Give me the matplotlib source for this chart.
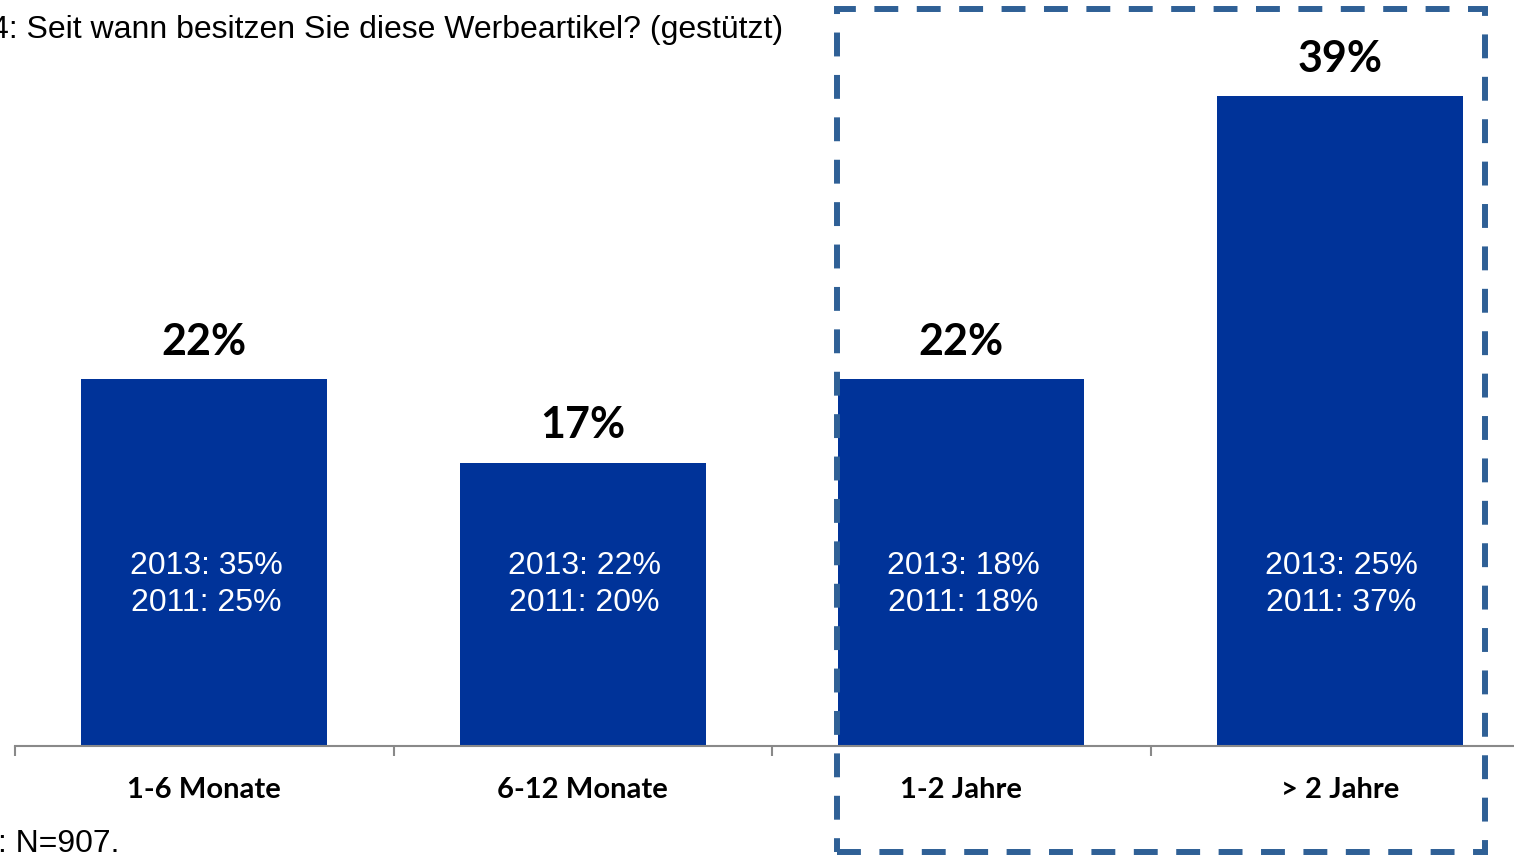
import matplotlib
matplotlib.use("Agg")
import matplotlib.pyplot as plt
from matplotlib.patches import Rectangle

categories = ["1-6 Monate", "6-12 Monate", "1-2 Jahre", "> 2 Jahre"]
values_2015 = [22, 17, 22, 39]
values_2013 = [35, 22, 18, 25]
values_2011 = [25, 20, 18, 37]

title = "4: Seit wann besitzen Sie diese Werbeartikel? (gestützt)"
footnote = ": N=907."

BAR = "#003399"
BOX = "#2F6096"
AXIS = "#898989"
BOLD_FONT = ["Lato", "DejaVu Sans"]
REG_FONT = ["Liberation Sans", "DejaVu Sans"]

W, H = 1514, 855
fig = plt.figure(figsize=(W / 100, H / 100), dpi=100)
ax = fig.add_axes([15 / W, (H - 746) / H, 1514 / W, 650 / H])

x = list(range(len(categories)))
ax.bar(x, values_2015, width=0.65, color=BAR, zorder=2)
ax.set_xlim(-0.5, 3.5)
ax.set_ylim(0, 39)

for s in ["top", "left", "right"]:
    ax.spines[s].set_visible(False)
ax.spines["bottom"].set_color(AXIS)
ax.spines["bottom"].set_linewidth(1.5)
ax.set_yticks([])

ax.set_xticks(x)
ax.set_xticklabels(categories, fontsize=21, fontweight="bold", family=BOLD_FONT)
ax.tick_params(axis="x", which="major", length=0, pad=22.5)
ax.set_xticks([i - 0.5 for i in range(len(categories) + 1)], minor=True)
ax.tick_params(axis="x", which="minor", length=7, width=1.5, color=AXIS, direction="out")

for i, v in enumerate(values_2015):
    ax.annotate(f"{v}%", (i, v), xytext=(0, 27), textcoords="offset points",
                ha="center", va="center", fontsize=31, fontweight="bold",
                family=BOLD_FONT, color="black")
    ax.text(i + 0.005, 9.7, f"2013: {values_2013[i]}%\n2011: {values_2011[i]}%",
            ha="center", va="center", fontsize=23, color="white",
            family=REG_FONT, linespacing=1.33, zorder=3)

fig.text(-9 / W, 1 - 30 / H, title, ha="left", va="center", fontsize=23,
         family=REG_FONT, color="black")
fig.text(-2 / W, 1 - 844 / H, footnote, ha="left", va="center", fontsize=23,
         family=REG_FONT, color="black")

box = Rectangle((836.5 / W, 1 - 852 / H), (1485 - 836.5) / W, (852 - 9) / H,
                transform=fig.transFigure, fill=False, edgecolor=BOX,
                linewidth=4.3, linestyle=(0, (4, 3.1)), zorder=5)
fig.patches.append(box)

fig.savefig("out.png", dpi=100)
